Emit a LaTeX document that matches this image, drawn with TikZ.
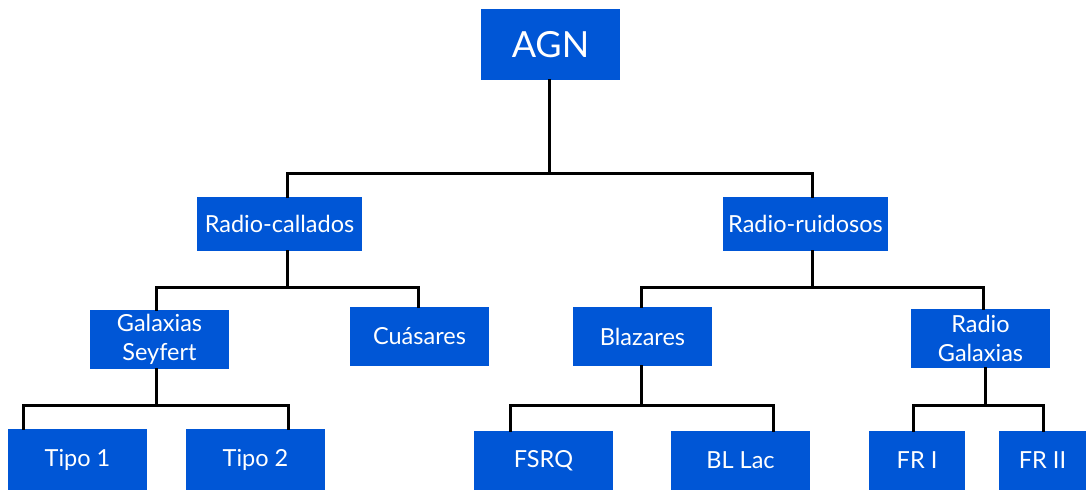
\documentclass[tikz,border=0pt]{standalone}
\usepackage{fontspec}
\setmainfont{Lato}
\usetikzlibrary{calc}
\definecolor{boxblue}{RGB}{0,86,214}
\tikzset{
  box/.style={fill=boxblue, text=white, inner sep=0pt, anchor=center, align=center,
    font=\fontsize{23.5}{29}\selectfont},
  conn/.style={draw=black, line width=3pt, line cap=rect}
}
\begin{document}
\begin{tikzpicture}[x=1pt,y=-1pt]
\useasboundingbox (0,0) rectangle (1086,490);
% nodes
\node[box, minimum width=139, minimum height=71, font=\fontsize{36}{40}\selectfont] (agn) at (550.5,44.5) {AGN};
\node[box, minimum width=165, minimum height=54] (rc) at (279.5,224) {Radio-callados};
\node[box, minimum width=165, minimum height=54] (rr) at (805.5,224) {Radio-ruidosos};
\node[box, minimum width=139, minimum height=59] (gs) at (159.5,339.5) {Galaxias\\Seyfert};
\node[box, minimum width=139, minimum height=59] (cu) at (419.5,336.5) {Cuásares};
\node[box, minimum width=139, minimum height=59] (bl) at (642.5,336.5) {Blazares};
\node[box, minimum width=139, minimum height=59] (rg) at (980.5,338.5) {Radio\\Galaxias};
\node[box, minimum width=139, minimum height=61] (t1) at (77.5,459.5) {Tipo 1};
\node[box, minimum width=139, minimum height=61] (t2) at (255.5,459.5) {Tipo 2};
\node[box, minimum width=139, minimum height=59] (fsrq) at (543.5,460.5) {FSRQ};
\node[box, minimum width=139, minimum height=59] (bll) at (740.5,460.5) {BL Lac};
\node[box, minimum width=96, minimum height=59] (fr1) at (917,460.5) {FR I};
\node[box, minimum width=87, minimum height=59] (fr2) at (1042.5,460.5) {FR II};
% bus levels
\coordinate (b1) at (0,173);
\coordinate (b2) at (0,287);
\coordinate (b3) at (0,405);
% connectors
\draw[conn] ([xshift=-1.5]agn.south) -- ([xshift=-1.5]agn.south |- b1) -| ([xshift=7.5]rc.north);
\draw[conn] ([xshift=-1.5]agn.south |- b1) -| ([xshift=6.5]rr.north);
\draw[conn] ([xshift=7.5]rc.south) -- ([xshift=7.5]rc.south |- b2) -| ([xshift=-3.5]gs.north);
\draw[conn] ([xshift=7.5]rc.south |- b2) -| ([xshift=-1.5]cu.north);
\draw[conn] ([xshift=6.5]rr.south) -- ([xshift=6.5]rr.south |- b2) -| ([xshift=-1.5]bl.north);
\draw[conn] ([xshift=6.5]rr.south |- b2) -| ([xshift=2.5]rg.north);
\draw[conn] ([xshift=-3.5]gs.south) -- ([xshift=-3.5]gs.south |- b3) -| ([xshift=16]t1.north west);
\draw[conn] ([xshift=-3.5]gs.south |- b3) -| ([xshift=-37]t2.north east);
\draw[conn] ([xshift=-1.5]bl.south) -- ([xshift=-1.5]bl.south |- b3) -| ([xshift=37]fsrq.north west);
\draw[conn] ([xshift=-1.5]bl.south |- b3) -| ([xshift=-37]bll.north east);
\draw[conn] ([xshift=4.5]rg.south) -- ([xshift=4.5]rg.south |- b3) -| ([xshift=45]fr1.north west);
\draw[conn] ([xshift=4.5]rg.south |- b3) -| ([xshift=45]fr2.north west);
\end{tikzpicture}
\end{document}
